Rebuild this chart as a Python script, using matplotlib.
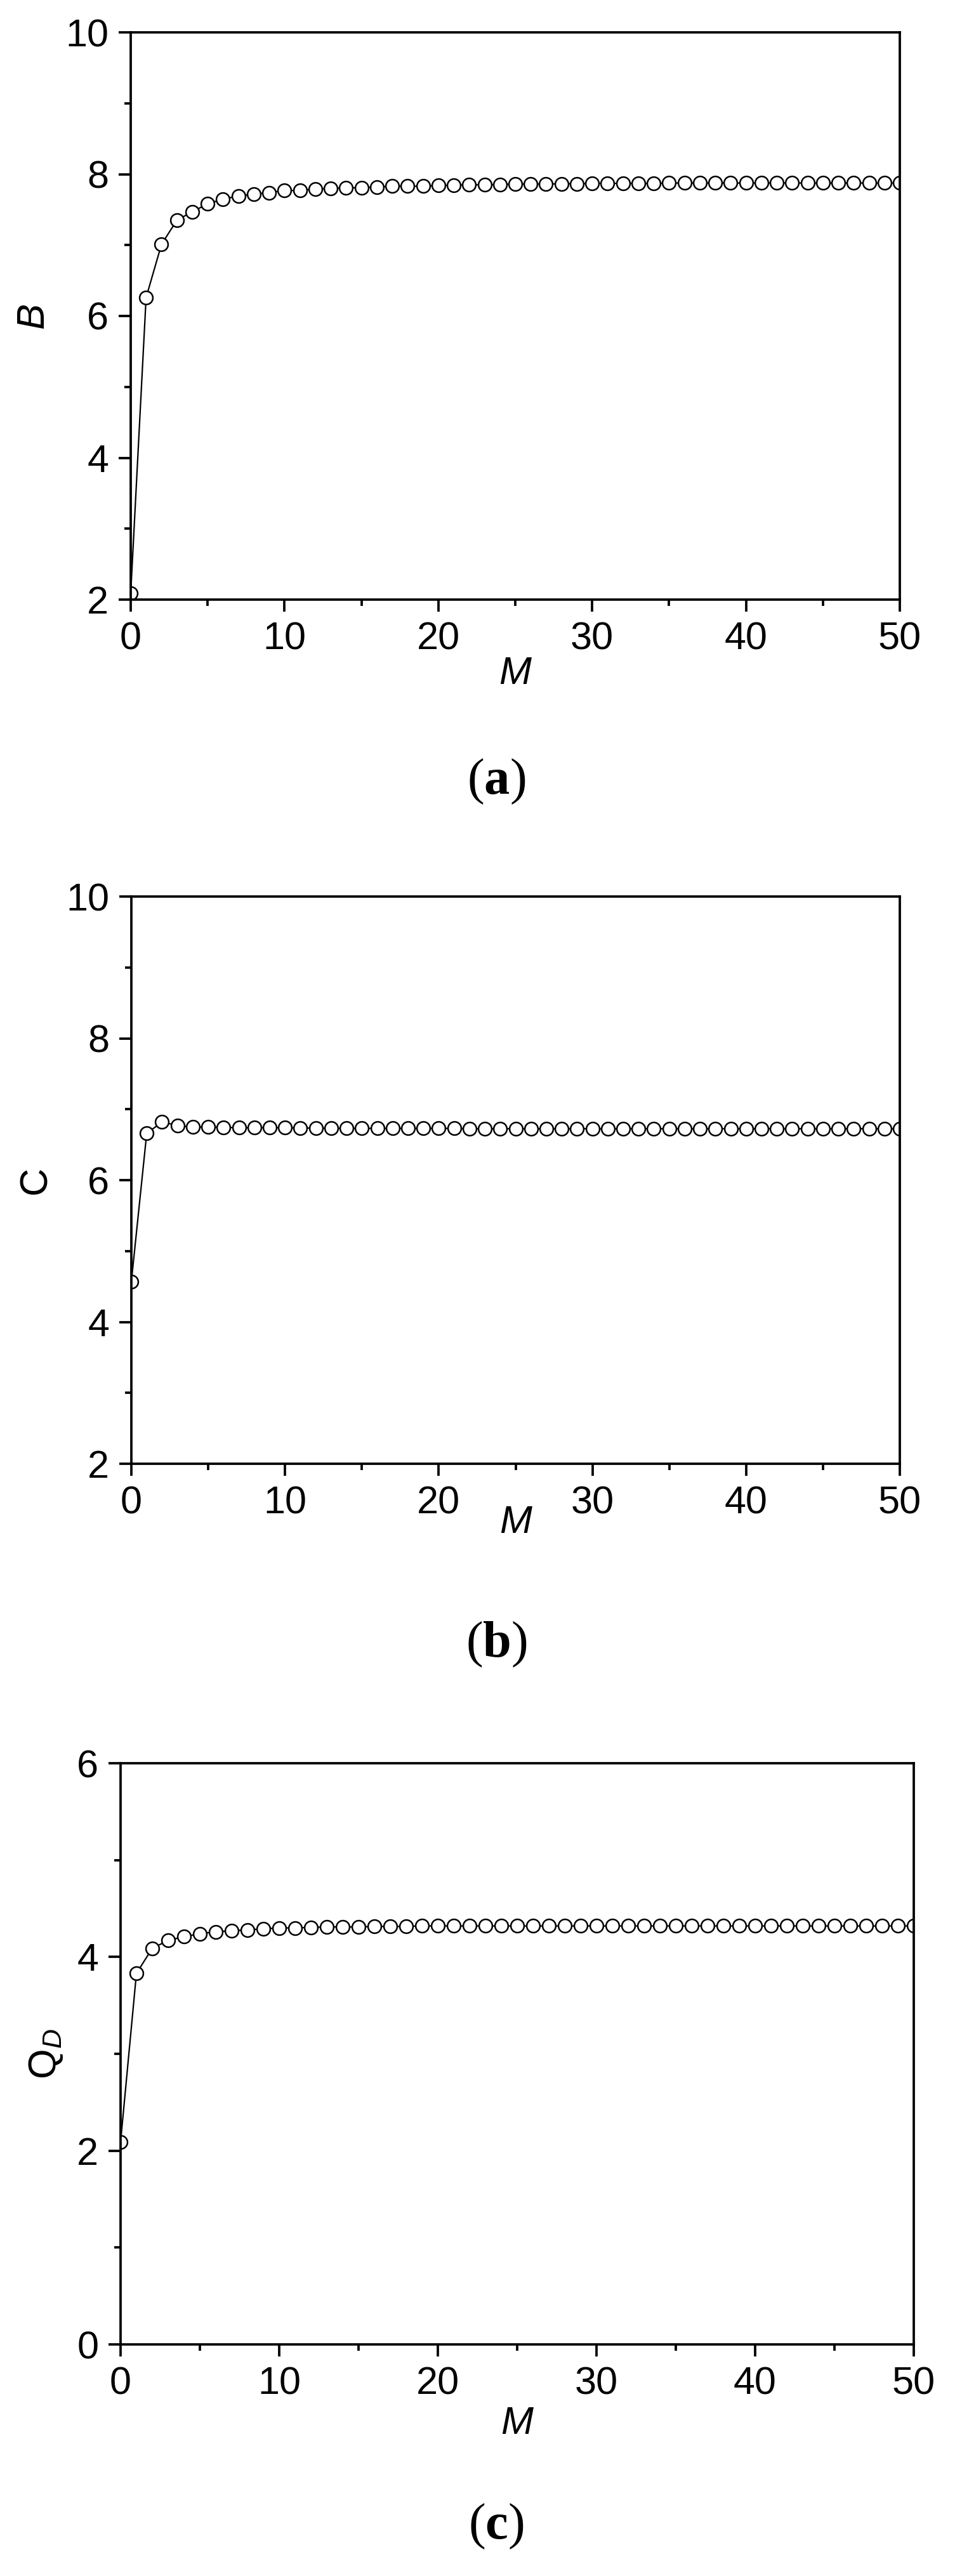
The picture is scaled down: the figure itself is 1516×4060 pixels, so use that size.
import numpy as np
import matplotlib
matplotlib.use("Agg")
import matplotlib.pyplot as plt
from matplotlib.ticker import MultipleLocator

# ---------- Data ----------
M = list(range(51))

B = [2.09, 6.26, 7.01, 7.35, 7.47, 7.58, 7.65, 7.69, 7.72, 7.74,
     7.77, 7.77, 7.79, 7.80, 7.805, 7.81, 7.82, 7.83, 7.83, 7.83,
     7.84, 7.845, 7.85, 7.85, 7.855, 7.86, 7.86, 7.86, 7.865, 7.865,
     7.87, 7.87, 7.87, 7.87, 7.87, 7.875, 7.875, 7.875, 7.875, 7.875,
     7.875, 7.875, 7.875, 7.875, 7.875, 7.875, 7.875, 7.875, 7.875, 7.875,
     7.875]

C = [4.57, 6.66, 6.82, 6.77, 6.75, 6.75, 6.745, 6.74, 6.74, 6.74,
     6.74, 6.735, 6.735, 6.73, 6.73, 6.73, 6.73, 6.73, 6.73, 6.73,
     6.73, 6.73, 6.725, 6.725, 6.725, 6.725, 6.725, 6.725, 6.725, 6.725,
     6.725, 6.725, 6.725, 6.725, 6.725, 6.725, 6.725, 6.725, 6.725, 6.725,
     6.725, 6.725, 6.725, 6.725, 6.725, 6.725, 6.725, 6.725, 6.725, 6.725,
     6.725]

QD = [2.09, 3.83, 4.09, 4.17, 4.21, 4.24, 4.26, 4.27, 4.28, 4.29,
      4.30, 4.30, 4.305, 4.31, 4.31, 4.31, 4.315, 4.315, 4.315, 4.32,
      4.32, 4.32, 4.32, 4.32, 4.32, 4.32, 4.32, 4.32, 4.32, 4.32,
      4.32, 4.32, 4.32, 4.32, 4.32, 4.32, 4.32, 4.32, 4.32, 4.32,
      4.32, 4.32, 4.32, 4.32, 4.32, 4.32, 4.32, 4.32, 4.32, 4.32,
      4.32]

# ---------- Style ----------
plt.rcParams['font.family'] = ['Liberation Sans', 'DejaVu Sans']
plt.rcParams['mathtext.fontset'] = 'custom'
plt.rcParams['mathtext.rm'] = 'Liberation Sans'
plt.rcParams['mathtext.it'] = 'Liberation Sans:italic'
plt.rcParams['mathtext.bf'] = 'Liberation Serif:bold'

W, H, DPI = 1516, 4060, 100
fig = plt.figure(figsize=(W / DPI, H / DPI), dpi=DPI)

FS = 44
LW = 2.7


def px_axes(left, right, top, bottom):
    # pixel box (top-left origin) -> figure fraction rect
    return [left / W, 1 - bottom / H, (right - left) / W, (bottom - top) / H]


def setup(ax, ylim, ylabel, yl_italic, ylab_x, xlab_y, panel, panel_xy):
    ax.set_xlim(0, 50)
    ax.set_ylim(*ylim)
    ax.xaxis.set_major_locator(MultipleLocator(10))
    ax.xaxis.set_minor_locator(MultipleLocator(5))
    ax.yaxis.set_major_locator(MultipleLocator(2))
    ax.yaxis.set_minor_locator(MultipleLocator(1))
    ax.tick_params(which='both', direction='out', top=False, right=False,
                   width=LW, labelsize=FS)
    ax.tick_params(which='major', length=14, pad=11)
    ax.tick_params(which='minor', length=7.5)
    for s in ax.spines.values():
        s.set_linewidth(LW)

    xl = ax.set_xlabel('M', fontsize=FS, fontstyle='italic')
    xl.set_va('center')
    ax.xaxis.set_label_coords(0.5, xlab_y)
    yl = ax.set_ylabel(ylabel, fontsize=FS,
                       fontstyle='italic' if yl_italic else 'normal')
    yl.set_va('center')
    ax.yaxis.set_label_coords(ylab_x, 0.5)

    fig.text(panel_xy[0] / W, 1 - panel_xy[1] / H, panel,
             family='Liberation Serif', fontsize=58, ha='center', va='center')


def draw(ax, y):
    ax.plot(M, y, '-o', color='black', lw=1.6, ms=15, mfc='white',
            mec='black', mew=1.8)


# (a)
ax1 = fig.add_axes(px_axes(206, 1418, 51, 945))
draw(ax1, B)
setup(ax1, (2, 10), 'B', True, (53 - 206) / 1212, (945 - 1063) / 894,
      r'($\mathbf{a}$)', (782, 1232))

# (b)
ax2 = fig.add_axes(px_axes(207, 1418, 1413, 2307))
draw(ax2, C)
setup(ax2, (2, 10), 'C', False, (57 - 207) / 1211, (2307 - 2400) / 894,
      r'($\mathbf{b}$)', (782, 2592))

# (c)
ax3 = fig.add_axes(px_axes(190, 1440, 2779, 3695))
draw(ax3, QD)
setup(ax3, (0, 6), r'Q$_{D}$', False, (73 - 190) / 1250, (3695 - 3820) / 916,
      r'($\mathbf{c}$)', (782, 3982))

fig.savefig('out.png', dpi=DPI)
